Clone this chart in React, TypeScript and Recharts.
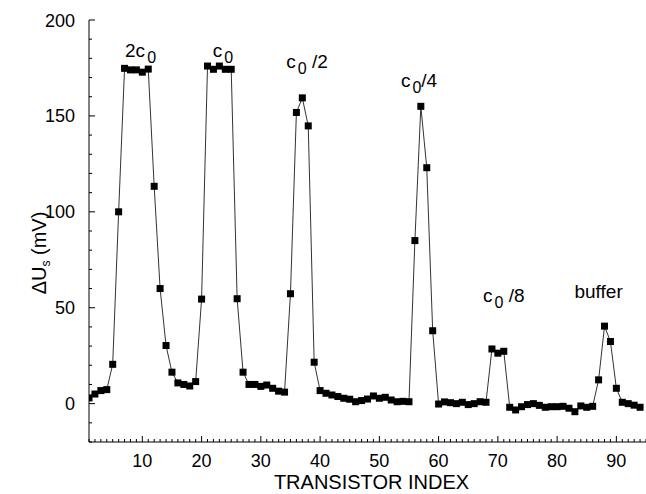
import { LineChart, Line, XAxis, YAxis, ReferenceDot } from 'recharts';

// transistor positions along the array
const transistorIndex = Array.from({ length: 94 }, (_, i) => i + 1);

const deltaU = [
  3, 5, 6.8, 7.3, 20.5, 100, 174.8, 174, 174, 172.8,
  174.4, 113.3, 60, 30.3, 16.4, 10.8, 10, 9.2, 11.5, 54.5,
  176, 174.3, 176, 174.3, 174.3, 54.7, 16.4, 10, 10, 9,
  9.7, 8, 6.5, 6, 57.3, 151.8, 159.4, 144.8, 21.6, 6.8,
  5.4, 4.5, 3.7, 2.8, 2.3, 1, 1.6, 2.4, 4, 2.8,
  3.3, 1.9, 1, 1.2, 1, 85, 155, 123, 38, -0.2,
  0.9, 0.5, 0, 0.7, -0.5, 0, 1, 0.7, 28.5, 26.3,
  27.3, -1.9, -3.3, -1.6, -0.5, 0, -0.9, -1.9, -1.6, -1.6,
  -1.4, -2.4, -4.2, -1.2, -1.9, -1.4, 12.4, 40.4, 32.4, 8,
  0.7, 0, -0.8, -1.9,
];

const xTicks = Array.from({ length: 95 }, (_, i) => i + 1);
const xLabels = [10, 20, 30, 40, 50, 60, 70, 80, 90];
const yTicks = [-20, -10, 0, 10, 20, 30, 40, 50, 60, 70, 80, 90, 100, 110, 120, 130, 140, 150, 160, 170, 180, 190, 200];
const yLabels = [0, 50, 100, 150, 200];

// peak annotations: main text, subscript, trailing text, anchor (index, mV)
const peakText = ['2c', 'c', 'c', 'c', 'c', 'buffer'];
const peakSub = ['0', '0', '0', '0', '0', ''];
const peakRest = ['', '', ' /2', '/4', ' /8', ''];
const peakX = [9.7, 23.6, 37.8, 56.7, 71, 87];
const peakY = [180.6, 180.6, 175.2, 165.2, 53.1, 54.9];

const FONT = '"Liberation Sans", Arial, Helvetica, sans-serif';

const data = transistorIndex.map((idx, i) => ({ idx, du: deltaU[i] }));

function SquareDot({ cx, cy }: any) {
  if (cx == null || cy == null) return null;
  return <rect x={cx - 3.5} y={cy - 3.5} width={7} height={7} fill="#000" />;
}

function XTick({ x, y, payload }: any) {
  const v = payload.value;
  const major = v % 10 === 0;
  return (
    <g>
      <line x1={x} y1={y} x2={x} y2={y - (major ? 6 : 3)} stroke="#000" strokeWidth={1} />
      {xLabels.includes(v) && (
        <text x={x} y={y + 25} textAnchor="middle" fontSize={18} fontFamily={FONT} fill="#000">
          {v}
        </text>
      )}
    </g>
  );
}

function YTick({ x, y, payload }: any) {
  const v = payload.value;
  const major = v % 50 === 0;
  return (
    <g>
      <line x1={x} y1={y} x2={x + (major ? 6 : 3)} y2={y} stroke="#000" strokeWidth={1} />
      {yLabels.includes(v) && (
        <text x={x - 14} y={y + 6.5} textAnchor="end" fontSize={18} fontFamily={FONT} fill="#000">
          {v}
        </text>
      )}
    </g>
  );
}

function XTitle({ viewBox }: any) {
  const { x, y, width } = viewBox;
  return (
    <text x={x + width / 2 + 4} y={y + 47} textAnchor="middle" fontSize={20} fontFamily={FONT} fill="#000">
      TRANSISTOR INDEX
    </text>
  );
}

function YTitle({ viewBox }: any) {
  const { x, y, height } = viewBox;
  const cx = x + 46;
  const cy = y + height / 2 + 22;
  return (
    <text
      x={cx}
      y={cy}
      transform={`rotate(-90, ${cx}, ${cy})`}
      textAnchor="middle"
      fontSize={20}
      fontFamily={FONT}
      fill="#000"
    >
      ΔU<tspan fontSize={12} dy={4}>s</tspan>
      <tspan dy={-4}> (mV)</tspan>
    </text>
  );
}

function PeakLabel(i: number) {
  return ({ cx, cy }: any) => (
    <text x={cx} y={cy} textAnchor="middle" fontSize={19} fontFamily={FONT} fill="#000">
      {peakText[i]}
      {peakSub[i] && (
        <tspan fontSize={16} dx={2} dy={6}>
          {peakSub[i]}
        </tspan>
      )}
      {peakRest[i] && <tspan dy={peakSub[i] ? -6 : 0}>{peakRest[i]}</tspan>}
    </text>
  );
}

export default function App() {
  return (
    <div style={{ position: 'absolute', left: 0, top: 0 }}>
      <LineChart width={646} height={494} data={data} margin={{ top: 20, right: 0, bottom: 0, left: 0 }}>
        <XAxis
          type="number"
          dataKey="idx"
          domain={[1, 95]}
          ticks={xTicks}
          interval={0}
          allowDataOverflow
          height={52}
          tickSize={0}
          tickMargin={0}
          tickLine={false}
          axisLine={{ stroke: '#000', strokeWidth: 1 }}
          tick={<XTick />}
          label={<XTitle />}
        />
        <YAxis
          type="number"
          domain={[-20, 200]}
          ticks={yTicks}
          interval={0}
          allowDataOverflow
          width={89}
          tickSize={0}
          tickMargin={0}
          tickLine={false}
          axisLine={{ stroke: '#000', strokeWidth: 1 }}
          tick={<YTick />}
          label={<YTitle />}
        />
        <Line
          type="linear"
          dataKey="du"
          stroke="#333"
          strokeWidth={1}
          dot={<SquareDot />}
          activeDot={false}
          isAnimationActive={false}
        />
        {peakText.map((_, i) => (
          <ReferenceDot key={i} x={peakX[i]} y={peakY[i]} r={0} shape={PeakLabel(i)} ifOverflow="visible" />
        ))}
      </LineChart>
    </div>
  );
}
